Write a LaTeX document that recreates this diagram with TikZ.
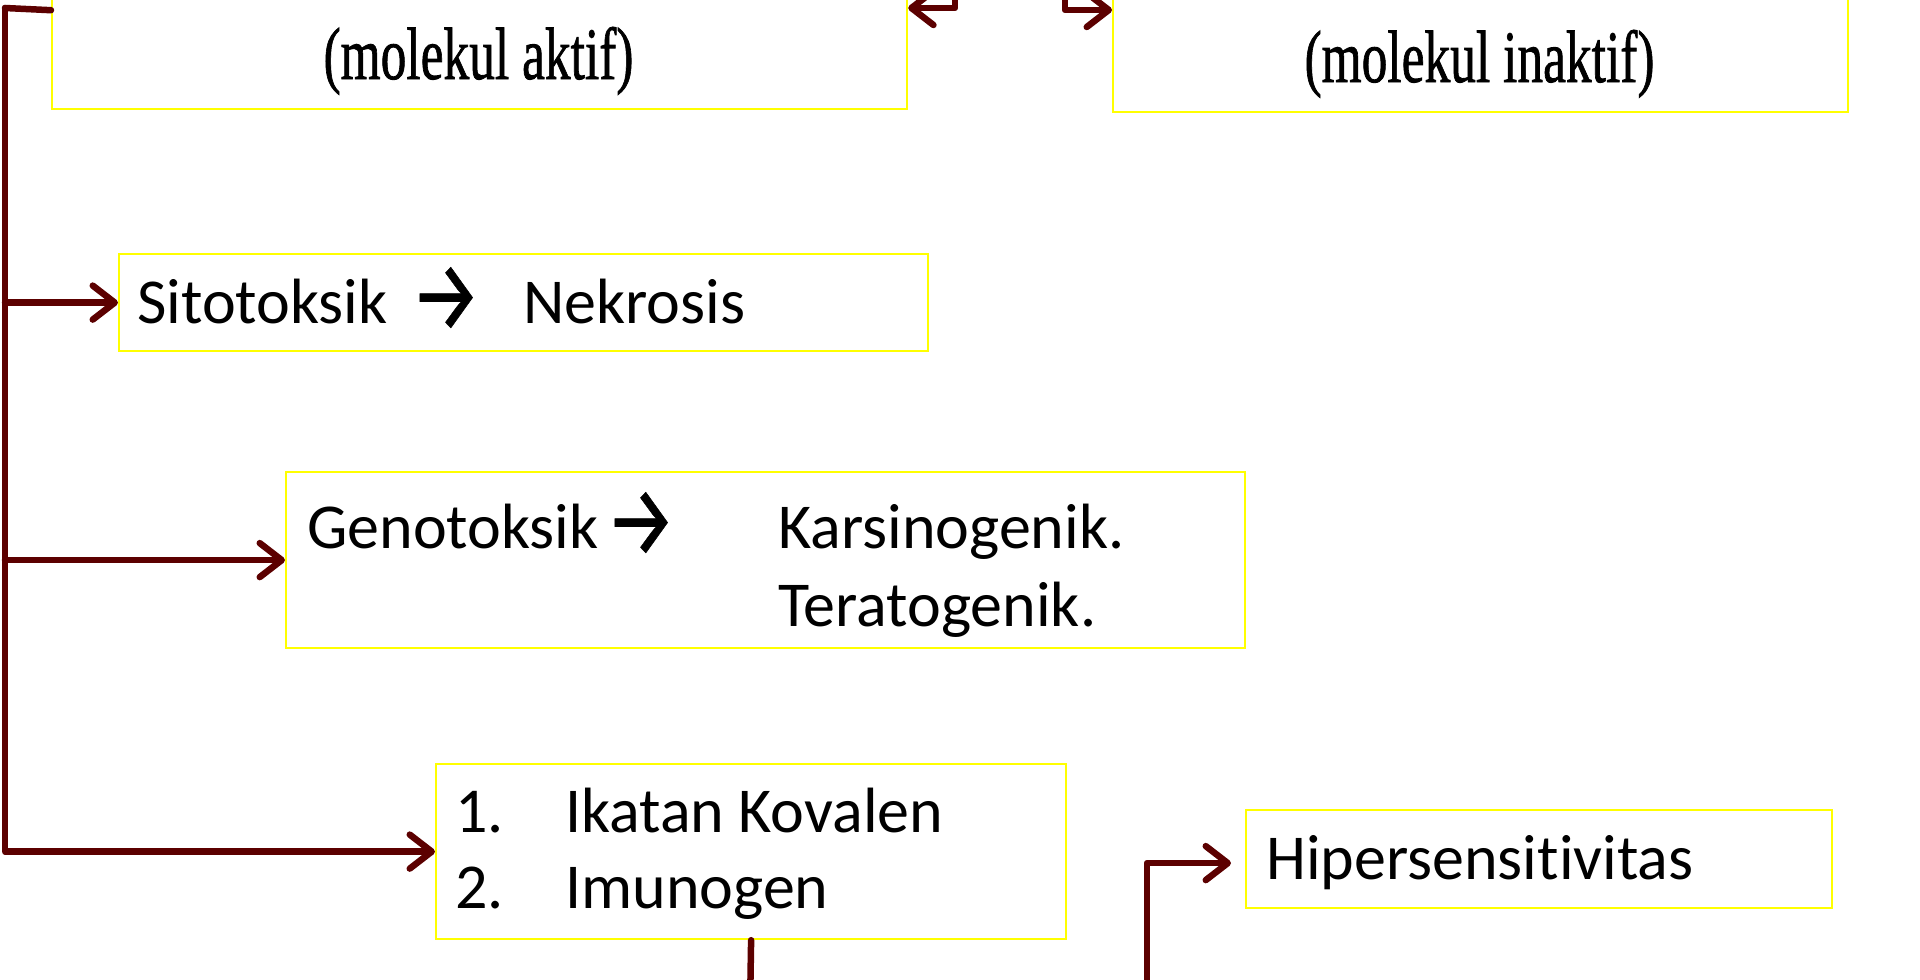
\documentclass[tikz,border=0pt]{standalone}
\usepackage{fontspec}
\setmainfont{Carlito}[Ligatures={NoCommon}]
\newfontfamily\tnr{Liberation Serif}[FakeBold=1.2]
\newfontfamily\fira{Fira Sans}[FakeBold=0.6]
\usetikzlibrary{arrows.meta}
\definecolor{boxyellow}{RGB}{255,255,0}
\definecolor{wirec}{RGB}{92,0,0}
\newcommand{\calib}{\fontsize{64pt}{78pt}\selectfont}
\newcommand{\serifhead}{\tnr\fontsize{74pt}{80pt}\selectfont}
\newcommand{\bigarrow}{{\fira\fontsize{88pt}{88pt}\selectfont\raisebox{-7pt}{\scalebox{0.9}[1.12]{→}}}}
\tikzset{
  box/.style={draw=boxyellow, line width=2.2pt, inner sep=0pt, anchor=north west},
  wire/.style={draw=wirec, line width=6.5pt, line cap=round, line join=round},
  arr/.style={wire, -{Straight Barb[length=22pt,width=34pt,round]}},
  lbl/.style={anchor=base west, inner sep=0pt, font=\calib},
  head/.style={anchor=base, inner sep=0pt, font=\serifhead},
}
\begin{document}
\begin{tikzpicture}[x=1pt,y=-1pt]
\useasboundingbox (0,0) rectangle (1920,980);
\clip (0,0) rectangle (1920,980);
% boxes
\node[box, minimum width=855pt, minimum height=168pt] (boxA) at (51,-60) {};
\node[box, minimum width=735pt, minimum height=171pt] (boxB) at (1112,-60) {};
\node[box, minimum width=809pt, minimum height=97pt] (boxC) at (118,253) {};
\node[box, minimum width=959pt, minimum height=176pt] (boxD) at (285,471) {};
\node[box, minimum width=630pt, minimum height=175pt] (boxE) at (435,763) {};
\node[box, minimum width=586pt, minimum height=98pt] (boxF) at (1245,809) {};
% texts
\node[head] (tA) at (478.5,79) {\scalebox{0.695}[1]{(molekul aktif)}};
\node[head] (tB) at (1479.5,82) {\scalebox{0.695}[1]{(molekul inaktif)}};
\node[lbl] (tC1) at (137,323) {Sitotoksik};
\node[lbl] (tC2) at (410,323) {\bigarrow};
\node[lbl] (tC3) at (523,323) {Nekrosis};
\node[lbl] (tD1) at (307,548) {Genotoksik};
\node[lbl] (tD2) at (605,548) {\bigarrow};
\node[lbl] (tD3) at (778,548) {Karsinogenik.};
\node[lbl] (tD4) at (778,626) {Teratogenik.};
\node[lbl] (tE1) at (455,832) {1.};
\node[lbl] (tE2) at (565,832) {Ikatan Kovalen};
\node[lbl] (tE3) at (455,908) {2.};
\node[lbl] (tE4) at (565,908) {Imunogen};
\node[lbl] (tF) at (1266,879) {Hipersensitivitas};
% connectors
\coordinate (trunk) at (5,8);
\draw[wire] ([yshift=100pt]boxA.south west) -- (trunk);
\draw[arr] (trunk |- boxC.west) -- (boxC.west);
\draw[arr] (trunk |- boxD.west) -- (boxD.west);
\draw[arr] (trunk) |- (boxE.west);
\coordinate (la) at (955,-30);
\coordinate (lturn) at (955,8);
\draw[arr] (la) -- (lturn) -- (lturn -| boxA.east);
\coordinate (ra) at (1065,-30);
\coordinate (rturn) at (1065,10);
\draw[arr] (ra) -- (rturn) -- (rturn -| boxB.west);
\coordinate (ebot) at (750,1010);
\draw[wire] (boxE.south) -- (ebot);
\coordinate (fbot) at (1147,1010);
\draw[arr] (fbot) |- ([xshift=-14pt,yshift=-4pt]boxF.west);
\end{tikzpicture}
\end{document}
